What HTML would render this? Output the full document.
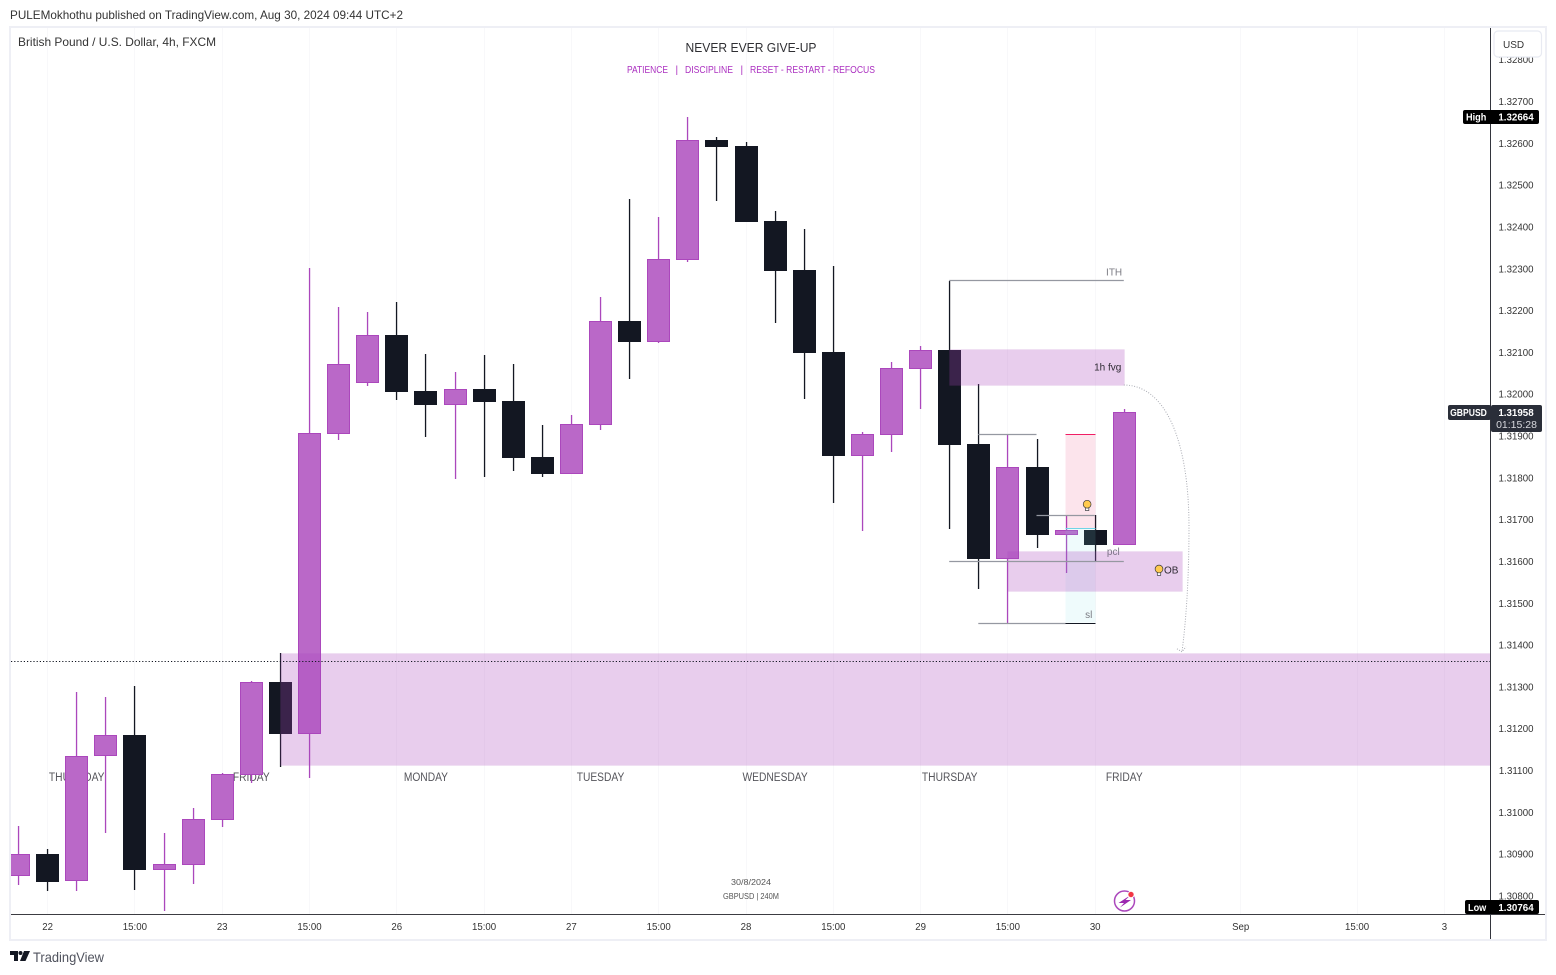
<!DOCTYPE html>
<html lang="en">
<head>
<meta charset="utf-8">
<title>GBPUSD 4h chart</title>
<style>
html,body{margin:0;padding:0;background:#fff;width:1556px;height:975px;overflow:hidden}
svg{display:block;font-family:"Liberation Sans",sans-serif}
</style>
</head>
<body>
<svg id="chart" xmlns="http://www.w3.org/2000/svg" width="1556" height="975" viewBox="0 0 1556 975">
  <defs><clipPath id="plot-clip"><rect x="11" y="28" width="1479" height="886"/></clipPath>
  <clipPath id="axis-clip"><rect x="1491" y="28" width="54" height="886"/></clipPath></defs>
  <text x="10" y="19" font-size="12" fill="#333" textLength="393" lengthAdjust="spacingAndGlyphs">PULEMokhothu published on TradingView.com, Aug 30, 2024 09:44 UTC+2</text>
  <rect x="10" y="27" width="1536" height="913" fill="#fff" stroke="#eeeff5" stroke-width="2"/>
  <g id="grid-layer"></g>
  <g id="weekday-layer"></g>
  <g id="candle-layer" clip-path="url(#plot-clip)"></g>
  <g id="zone-layer" clip-path="url(#plot-clip)"></g>
  <text x="18" y="46" font-size="12" fill="#333" textLength="198" lengthAdjust="spacingAndGlyphs">British Pound / U.S. Dollar, 4h, FXCM</text>
  <text x="751" y="52" font-size="13" fill="#2f2f33" text-anchor="middle" textLength="131" lengthAdjust="spacingAndGlyphs">NEVER EVER GIVE-UP</text>
  <g font-size="10" fill="#ab2fc0">
    <text x="627" y="73" textLength="41" lengthAdjust="spacingAndGlyphs">PATIENCE</text>
    <text x="675.500" y="73">|</text>
    <text x="685" y="73" textLength="48" lengthAdjust="spacingAndGlyphs">DISCIPLINE</text>
    <text x="740.500" y="73">|</text>
    <text x="750" y="73" textLength="125" lengthAdjust="spacingAndGlyphs">RESET - RESTART - REFOCUS</text>
  </g>
  <text x="731" y="885" font-size="8" fill="#555" textLength="40" lengthAdjust="spacingAndGlyphs">30/8/2024</text>
  <text x="723" y="899" font-size="8" fill="#555" textLength="56" lengthAdjust="spacingAndGlyphs">GBPUSD | 240M</text>
  <g>
    <circle cx="1124.500" cy="901" r="10" fill="#fff" stroke="#ab47bc" stroke-width="1.5"/>
    <path d="M1130 895.500 L1118.500 903 L1124 903 L1120 907.500 L1131 900 L1125.500 900 Z" fill="#9c27b0"/>
    <circle cx="1131" cy="894.500" r="3.600" fill="#fff"/>
    <circle cx="1131" cy="894.500" r="2.700" fill="#f23645"/>
  </g>
  <line x1="11" y1="914.5" x2="1545" y2="914.5" stroke="#3c3c42" stroke-width="1"/>
  <line x1="1490.5" y1="28" x2="1490.5" y2="939" stroke="#33353d" stroke-width="1"/>
  <g id="time-layer"></g>
  <g id="price-layer" clip-path="url(#axis-clip)"></g>
  <rect x="1494" y="31" width="47.500" height="26" rx="4" fill="#fff" stroke="#e8eaf2" stroke-width="1.2"/>
  <text x="1503" y="48" font-size="10" fill="#333">USD</text>
  <g id="badge-layer"></g>
  <g>
    <path d="M10 951 H18 V961 H14 V955 H10 Z" fill="#131722"/>
    <circle cx="20.500" cy="953" r="2" fill="#131722"/>
    <path d="M24 951 H30 L25.500 961 H20 Z" fill="#131722"/>
    <text x="33" y="962" font-size="14" fill="#50535e" textLength="71" lengthAdjust="spacingAndGlyphs">TradingView</text>
  </g>
</svg>
<script>
// Chart data (prices)
const opens  = [1.30849,1.30900,1.30835,1.31134,1.31185,1.30862,1.30874,1.30982,1.31090,1.31312,1.31187,1.31905,1.32027,1.32142,1.32008,1.31974,1.32012,1.31984,1.31850,1.31809,1.31926,1.32175,1.32125,1.32321,1.32608,1.32594,1.32414,1.32297,1.32101,1.31852,1.31902,1.32060,1.32106,1.31881,1.31606,1.31826,1.31663,1.31675,1.31639];
const highs  = [1.30967,1.30912,1.31288,1.31276,1.31302,1.30951,1.31010,1.31094,1.31314,1.31381,1.32302,1.32209,1.32197,1.32221,1.32096,1.32053,1.32094,1.32072,1.31926,1.31950,1.32233,1.32467,1.32424,1.32664,1.32615,1.32603,1.32438,1.32395,1.32307,1.31910,1.32077,1.32115,1.32271,1.32024,1.31905,1.31893,1.31709,1.31711,1.31965];
const lows   = [1.30826,1.30812,1.30812,1.30951,1.30814,1.30764,1.30829,1.30965,1.31070,1.31108,1.31082,1.31891,1.32020,1.31986,1.31898,1.31797,1.31802,1.31816,1.31802,1.31809,1.31914,1.32036,1.32122,1.32316,1.32462,1.32412,1.32170,1.31989,1.31740,1.31673,1.31862,1.31965,1.31678,1.31534,1.31453,1.31632,1.31573,1.31601,1.31639];
const closes = [1.30900,1.30834,1.31135,1.31184,1.30862,1.30877,1.30984,1.31092,1.31312,1.31187,1.31907,1.32072,1.32142,1.32005,1.31974,1.32012,1.31981,1.31847,1.31809,1.31929,1.32175,1.32125,1.32323,1.32608,1.32591,1.32412,1.32295,1.32099,1.31852,1.31905,1.32063,1.32106,1.31879,1.31606,1.31826,1.31663,1.31675,1.31639,1.31958];

const priceTicks = [1.328,1.327,1.326,1.325,1.324,1.323,1.322,1.321,1.320,1.319,1.318,1.317,1.316,1.315,1.314,1.313,1.312,1.311,1.310,1.309,1.308];
const timeTickBars   = [1,4,7,10,13,16,19,22,25,28,31,34,37,42,46,49];
const timeTickLabels = ['22','15:00','23','15:00','26','15:00','27','15:00','28','15:00','29','15:00','30','Sep','15:00','3'];
const weekdayBars    = [2,8,14,20,26,32,38];
const weekdayLabels  = ['THURSDAY','FRIDAY','MONDAY','TUESDAY','WEDNESDAY','THURSDAY','FRIDAY'];

const lastPrice = 1.31958;
const highPrice = 1.32664;
const lowPrice  = 1.30764;
const countdown = '01:15:28';
const dottedPrice = 1.31362;

const zoneNames  = ['demand-zone','fvg-zone','order-block-zone'];
const zoneStart  = [9,32,34];
const zoneEnd    = [null,38,40];
const zoneTop    = [1.31381,1.32108,1.31625];
const zoneBottom = [1.31113,1.32022,1.31529];

const levelNames = ['ith-line','pcl-line','swing-high-line','swing-low-line','mid-line'];
const levelStart = [32,32,33,33,35];
const levelEnd   = [38,38,35,36,37];
const levelPrice = [1.32273,1.31601,1.31905,1.31453,1.31712];

const longStart = 36, longEnd = 37;
const longTarget = 1.31904, longEntry = 1.31680, longStop = 1.31454;

const arrowBars   = [38,39.42,40.24,40.24,40.24,40.14,40];
const arrowPrices = [1.32022,1.32022,1.31891,1.31682,1.31556,1.31460,1.31384];

const noteTexts  = ['ITH','1h fvg','pcl','OB','sl'];
const noteBars   = [37.39,36.98,37.42,39.38,36.67];
const notePrices = [1.32292,1.32065,1.31624,1.31580,1.31473];

const bulbBars   = [36.74,39.21];
const bulbPrices = [1.31735,1.31580];

// Axis functions
const PRICE_REF = 1.327, PRICE_REF_Y = 101.5, PX_PER_UNIT = 41816;
const BAR_ZERO_X = 18, BAR_STEP = 29.1, PLOT_RIGHT = 1490;
function yOf(p){ return PRICE_REF_Y + (PRICE_REF - p) * PX_PER_UNIT; }
function xOf(b){ return BAR_ZERO_X + b * BAR_STEP; }

const NS = 'http://www.w3.org/2000/svg';
function mk(tag, parentId, attrs, content){
  const e = document.createElementNS(NS, tag);
  for (const k in attrs) e.setAttribute(k, attrs[k]);
  if (content !== undefined) e.textContent = content;
  document.getElementById(parentId).appendChild(e);
  return e;
}
function squeeze(e, k){
  e.setAttribute('textLength', (e.getComputedTextLength() * k).toFixed(2));
  e.setAttribute('lengthAdjust', 'spacingAndGlyphs');
}

// Grid and time axis
timeTickBars.forEach(function(b, i){
  const x = Math.round(xOf(b)) + 0.5;
  const g = mk('line', 'grid-layer', {x1:x, y1:28, x2:x, y2:914, stroke:'#f8f8fa', 'stroke-width':1});
  
  
  const t = mk('text', 'time-layer', {x:xOf(b) + 0.5, y:930, 'font-size':10.5, fill:'#333', 'text-anchor':'middle'}, timeTickLabels[i]);
  
  
  squeeze(t, 0.92);
});

// Price axis
priceTicks.forEach(function(p){
  const t = mk('text', 'price-layer', {x:1516, y:yOf(p) + 3.5, 'font-size':10.5, fill:'#333', 'text-anchor':'middle'}, p.toFixed(5));
  
  
  squeeze(t, 0.92);
});

// Weekday labels
weekdayLabels.forEach(function(s, i){
  const t = mk('text', 'weekday-layer', {x:xOf(weekdayBars[i]) + 0.5, y:781, 'font-size':11.5, fill:'#55555b', 'text-anchor':'middle'}, s);
  
  
  squeeze(t, 0.89);
});

// Candles
opens.forEach(function(o, i){
  const up = closes[i] >= o;
  const cx = Math.round(xOf(i));
  const wickColor = up ? '#ab47bc' : '#131722';
  const wick = mk('rect', 'candle-layer', {x:cx - 0.1, y:Math.round(yOf(highs[i])), width:1.3, height:Math.max(1, Math.round(yOf(lows[i])) - Math.round(yOf(highs[i]))), fill:wickColor});
  
  
  const top = Math.round(yOf(Math.max(o, closes[i])));
  const bot = Math.round(yOf(Math.min(o, closes[i])));
  const h = Math.max(1, bot - top);
  const body = mk('rect', 'candle-layer', up
    ? {x:cx - 10.5, y:top + 0.5, width:22, height:Math.max(0, h - 1), fill:'#ba68c8', stroke:'#ab47bc', 'stroke-width':1}
    : {x:cx - 11, y:top, width:23, height:h, fill:'#131722'});
  
  
});

// Long position box
const lx = Math.round(xOf(longStart)) - 0.5;
const lw = Math.round(xOf(longEnd)) - lx + 0.5;
const targetRect = mk('rect', 'zone-layer', {x:lx, y:yOf(longTarget), width:lw, height:yOf(longEntry) - yOf(longTarget), fill:'rgba(233,30,99,0.12)'});


const stopRect = mk('rect', 'zone-layer', {x:lx, y:yOf(longEntry), width:lw, height:yOf(longStop) - yOf(longEntry), fill:'rgba(128,222,234,0.13)'});



// Zones
zoneNames.forEach(function(n, i){
  const x1 = Math.round(xOf(zoneStart[i]));
  const x2 = zoneEnd[i] === null ? PLOT_RIGHT : Math.round(xOf(zoneEnd[i]));
  const r = mk('rect', 'zone-layer', {x:x1 + 0.5, y:Math.round(yOf(zoneTop[i])) + 0.5, width:x2 - x1, height:Math.round(yOf(zoneBottom[i])) - Math.round(yOf(zoneTop[i])), fill:'rgba(171,71,188,0.27)', stroke:'rgba(171,71,188,0.04)', 'stroke-width':1});
  
  
});

// Horizontal levels
levelNames.forEach(function(n, i){
  const y = Math.round(yOf(levelPrice[i])) + 0.5;
  const l = mk('line', 'zone-layer', {x1:xOf(levelStart[i]), y1:y, x2:xOf(levelEnd[i]), y2:y, stroke:'#9598a1', 'stroke-width':1.3});
  
  
});

// Long position edge lines
const edgePrices = [longTarget, longEntry, longStop];
const edgeColors = ['#f01e64', '#70d4e6', '#131722'];
const edgeNames  = ['long-target-line', 'long-entry-line', 'long-stop-line'];
edgePrices.forEach(function(p, i){
  const y = Math.round(yOf(p)) + 0.5;
  const l = mk('line', 'zone-layer', {x1:lx, y1:y, x2:lx + lw, y2:y, stroke:edgeColors[i], 'stroke-width':1});
  
  
});

// Dotted last-level line
const dy = Math.round(yOf(dottedPrice)) + 0.5;
const dot = mk('line', 'zone-layer', {x1:11, y1:dy, x2:PLOT_RIGHT, y2:dy, stroke:'#131722', 'stroke-width':1, 'stroke-dasharray':'1.2 2'});



// Curved dotted arrow
const ap = arrowBars.map(function(b, i){ return xOf(b) + ' ' + yOf(arrowPrices[i]); });
const arrow = mk('path', 'zone-layer', {d:'M' + ap[0] + ' C' + ap[1] + ', ' + ap[2] + ', ' + ap[3] + ' C' + ap[4] + ', ' + ap[5] + ', ' + ap[6], fill:'none', stroke:'#a9abb3', 'stroke-width':1, 'stroke-dasharray':'1 1.6'});


const tipX = xOf(arrowBars[6]), tipY = yOf(arrowPrices[6]);
const head = mk('path', 'zone-layer', {d:'M' + (tipX - 5) + ' ' + (tipY - 3) + ' L' + tipX + ' ' + tipY + ' L' + (tipX + 4) + ' ' + (tipY - 5), fill:'none', stroke:'#a9abb3', 'stroke-width':1, 'stroke-dasharray':'1 1.4'});



// Notes
const noteColors = ['#7a7a82', '#2e2a33', '#7d7488', '#2e2a33', '#7a7a82'];
noteTexts.forEach(function(s, i){
  const t = mk('text', 'zone-layer', {x:xOf(noteBars[i]), y:yOf(notePrices[i]) + 3.5, 'font-size':10, fill:noteColors[i]}, s);
  
  
});

// Idea bulbs
bulbBars.forEach(function(b, i){
  const x = xOf(b), y = yOf(bulbPrices[i]);
  const stem = mk('rect', 'zone-layer', {x:x - 1.7, y:y + 1.5, width:3.4, height:4, fill:'#fff', stroke:'#3a3a40', 'stroke-width':0.7});
  
  
  const bulb = mk('circle', 'zone-layer', {cx:x, cy:y - 0.8, r:3.9, fill:'#ffca4f', stroke:'#3a3a40', 'stroke-width':0.7});
  
  
});

// Price badges
const highY = Math.round(yOf(highPrice));
const lowY = Math.round(yOf(lowPrice));
const lastY = Math.round(yOf(lastPrice));

const highBox = mk('rect', 'badge-layer', {x:1463, y:highY - 7, width:76, height:14, rx:2, fill:'#000'});


const highTxt = mk('text', 'badge-layer', {x:1466, y:highY + 3.5, 'font-size':10.5, 'font-weight':'bold', fill:'#fff'}, 'High');


squeeze(highTxt, 0.87);
const highVal = mk('text', 'badge-layer', {x:1516, y:highY + 3.5, 'font-size':10.5, 'font-weight':'bold', fill:'#fff', 'text-anchor':'middle'}, highPrice.toFixed(5));


squeeze(highVal, 0.93);

const lowBox = mk('rect', 'badge-layer', {x:1465, y:lowY - 11, width:74, height:14, rx:2, fill:'#000'});


const lowTxt = mk('text', 'badge-layer', {x:1468, y:lowY, 'font-size':10.5, 'font-weight':'bold', fill:'#fff'}, 'Low');


squeeze(lowTxt, 0.87);
const lowVal = mk('text', 'badge-layer', {x:1516, y:lowY, 'font-size':10.5, 'font-weight':'bold', fill:'#fff', 'text-anchor':'middle'}, lowPrice.toFixed(5));


squeeze(lowVal, 0.93);

const symBox = mk('rect', 'badge-layer', {x:1448, y:lastY - 7, width:43, height:15, rx:2, fill:'#2a2e39'});


const symTxt = mk('text', 'badge-layer', {x:1468.5, y:lastY + 4, 'font-size':10, 'font-weight':'bold', fill:'#fff', 'text-anchor':'middle'}, 'GBPUSD');


squeeze(symTxt, 0.86);
const lastBox = mk('rect', 'badge-layer', {x:1491, y:lastY - 7, width:51, height:27, rx:2, fill:'#2a2e39'});


const lastVal = mk('text', 'badge-layer', {x:1516, y:lastY + 4, 'font-size':10.5, 'font-weight':'bold', fill:'#fff', 'text-anchor':'middle'}, lastPrice.toFixed(5));


squeeze(lastVal, 0.93);
const cd = mk('text', 'badge-layer', {x:1516.5, y:lastY + 16, 'font-size':10.5, fill:'#d8d9de', 'text-anchor':'middle'}, countdown);


</script>
</body>
</html>
